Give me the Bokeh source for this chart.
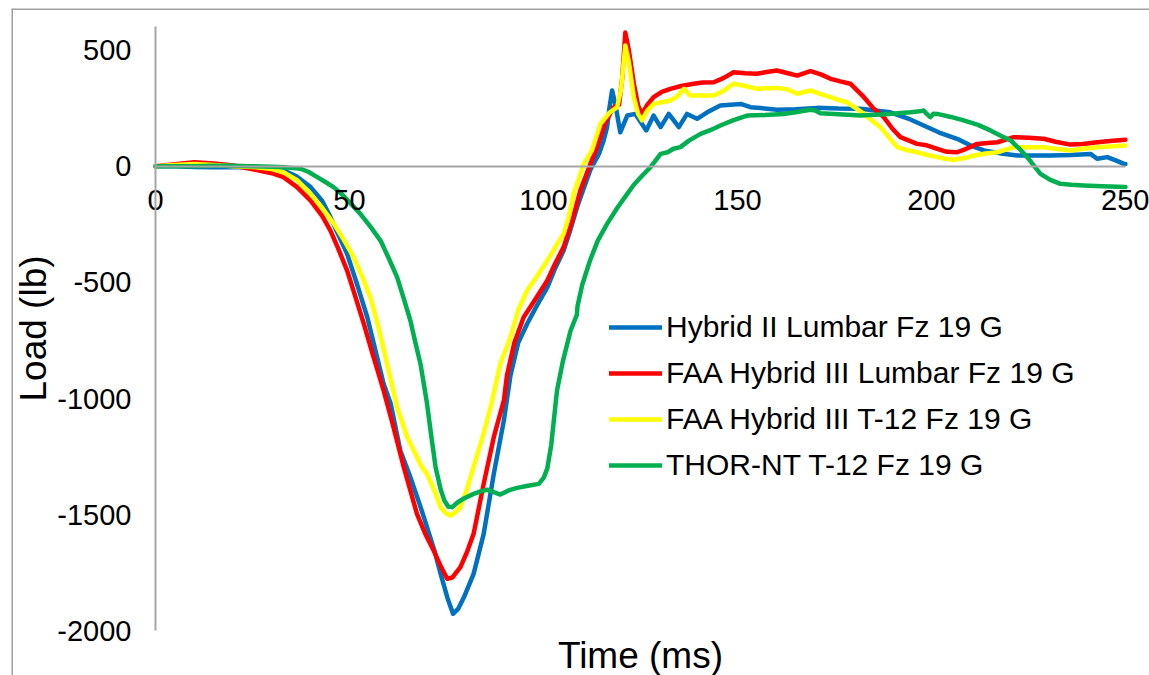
from bokeh.plotting import figure
from bokeh.models import Range1d, FixedTicker, Span, Label
from bokeh.embed import file_html
from bokeh.resources import INLINE

# ---- data: seat-pan drop test, 19 G, load vs. time ----
hyb2_lumbar_t = [0, 5, 10, 15, 20, 25, 30, 33, 36.5, 40, 43, 45.1, 47, 49.4, 52, 54.6, 56.8, 58.8,
                 60.6, 63.1, 65.7, 68, 70, 72, 73.5, 75.3, 76.7, 78, 79.5, 82, 84.6, 87.2, 89.8,
                 91.5, 93.5, 95.8, 98.3, 101, 103, 105.2, 107, 108.7, 110.5, 112.1, 114.3, 115.5,
                 116.4, 117, 117.7, 118.6, 119.8, 121.6, 123.7, 126.5, 128.4, 130.2, 132.3, 134.9,
                 137, 139.6, 142.2, 145.6, 150.8, 153.4, 156, 160.2, 165, 170.5, 176, 181.7, 185.5,
                 189.4, 194, 198, 202, 206.6, 210, 213.5, 218, 222.1, 226, 230.7, 236, 241, 242.7,
                 245.3, 247.5, 249.6, 250]
hyb2_lumbar_load = [0, 0, -3, -5, -3, -4, -10, -18, -45, -90, -150, -219, -290, -377, -510, -650, -800,
                    -936, -1020, -1223, -1338, -1450, -1553, -1660, -1754, -1860, -1926, -1905, -1855,
                    -1754, -1582, -1324, -1094, -900, -760, -678, -600, -521, -440, -363, -270, -175,
                    -90, -15, 53, 110, 168, 250, 326, 260, 146, 218, 225, 154, 218, 168, 225, 168,
                    225, 204, 232, 261, 268, 254, 250, 243, 245, 251, 248, 247, 240, 232, 205, 175,
                    145, 118, 90, 68, 55, 46, 46, 46, 48, 53, 32, 39, 25, 10, 10]

faa_hyb3_lumbar_t = [0, 5, 10, 15, 20, 24.5, 30, 33, 36.5, 40, 43, 45.1, 47, 49.4, 51.5, 53.7, 56, 58.8,
                     61, 64, 67.4, 69.5, 71.7, 73.5, 75.2, 76.5, 78.6, 80.3, 82, 84.6, 87.2, 89.8,
                     90.6, 92.5, 94.9, 98, 101, 103, 105.2, 107.5, 109.5, 112.1, 113.8, 116, 118.1,
                     119.5, 120.3, 121.1, 122, 123.3, 124.4, 125.4, 126.8, 128.4, 130.5, 132.7, 135.5,
                     138.7, 141, 143.9, 146.5, 149, 152, 155, 157.5, 160.2, 163, 165.4, 168.8, 171.5,
                     174, 176.5, 179.1, 182.6, 185, 187.7, 190, 192, 196.3, 198.8, 201.5, 204, 206.6,
                     209, 211.8, 214.5, 217, 221.2, 225, 228.9, 232, 235.8, 239, 242.7, 246, 250]
faa_hyb3_lumbar_load = [0, 8, 17, 12, 3, -11, -30, -47, -90, -148, -215, -277, -350, -449, -560, -678,
                        -810, -965, -1100, -1295, -1496, -1580, -1654, -1720, -1775, -1770, -1725,
                        -1660, -1582, -1367, -1166, -1008, -900, -760, -650, -570, -492, -420, -348,
                        -230, -105, 10, 80, 190, 254, 265, 380, 575, 500, 355, 260, 225, 265, 297, 320,
                        333, 345, 355, 360, 361, 380, 404, 400, 398, 405, 412, 400, 390, 409, 395, 376,
                        365, 355, 297, 250, 211, 160, 125, 96, 90, 75, 62, 60, 75, 96, 100, 103, 125,
                        122, 118, 105, 93, 96, 103, 108, 114]

faa_hyb3_t12_t = [0, 5, 10, 15, 20, 25, 30, 33, 36.5, 40, 43, 46, 48.5, 51.1, 53.3, 55.4, 57.6, 59.7,
                  62.3, 64.9, 66.5, 68.7, 70, 72, 73.5, 75, 76, 77.3, 78.6, 80.3, 82, 84.6, 86.8, 88.9,
                  91.5, 93.5, 95.8, 98.5, 101, 103, 105.2, 106.5, 107.8, 110.4, 112.5, 114.7, 117, 119,
                  120, 121.1, 122, 123.3, 124.4, 125.4, 126.8, 128.4, 130.5, 132.7, 134.5, 136.2,
                  137.9, 141, 143.9, 146.5, 149, 152, 155, 157.5, 160.2, 163, 165.4, 168.8, 171.5, 174,
                  176, 178.3, 180.5, 182.6, 184.8, 186.9, 189, 191.2, 193.5, 196.3, 199, 201.5, 203.5,
                  205.8, 208.5, 211, 214, 217, 221.2, 225, 228.9, 232, 235.8, 239, 242.7, 246, 250]
faa_hyb3_t12_load = [0, 5, 10, 5, 0, -3, -12, -26, -60, -119, -180, -248, -315, -392, -475, -564, -700,
                     -850, -1037, -1166, -1220, -1295, -1324, -1400, -1467, -1495, -1503, -1490, -1467,
                     -1390, -1295, -1151, -1008, -850, -736, -620, -535, -470, -406, -350, -291, -220,
                     -119, 10, 68, 182, 230, 254, 330, 519, 450, 297, 225, 197, 240, 268, 275, 283, 300,
                     333, 304, 304, 304, 325, 355, 345, 333, 335, 337, 330, 312, 326, 310, 297, 285,
                     275, 250, 225, 195, 168, 125, 82, 70, 60, 48, 39, 32, 28, 35, 46, 55, 60, 82, 82,
                     82, 75, 68, 75, 82, 85, 89]

thor_t12_t = [0, 5, 10, 15, 20, 24.5, 30, 33.5, 37.4, 39.5, 41.7, 43.8, 45.9, 48, 50.3, 52.8, 55.4, 58,
              60.1, 62.3, 64, 65.7, 67, 68.3, 70, 71, 72.2, 73.5, 74.5, 75.5, 76.5, 78, 79.5, 82, 84,
              85.5, 87.5, 88.9, 91, 93.2, 96, 98.8, 100.1, 101, 102, 103.5, 105, 107, 108.6, 108.8,
              110, 112, 114, 116.4, 119, 121.6, 123.3, 125.5, 127.6, 130.2, 132, 133.5, 135.3, 137.5,
              140.5, 143, 145.6, 149, 152.5, 157, 161.9, 165, 168.8, 170, 171.4, 175, 181.7, 188,
              194.6, 197, 198, 198.8, 199.7, 200.5, 201.5, 205, 208.3, 212, 215.2, 218, 220.4, 222.5,
              224.7, 226.5, 228.1, 230.5, 233.2, 236, 239.2, 244, 250]
thor_t12_load = [0, 0, 0, 2, 2, 0, -2, -5, -11, -25, -47, -68, -90, -120, -160, -205, -260, -320, -395,
                 -478, -570, -664, -760, -850, -1022, -1150, -1295, -1390, -1440, -1465, -1467, -1445,
                 -1430, -1410, -1398, -1392, -1405, -1413, -1395, -1384, -1375, -1367, -1340, -1300,
                 -1200, -965, -840, -707, -640, -600, -510, -406, -320, -248, -180, -119, -80, -40, -4,
                 53, 60, 75, 82, 110, 139, 155, 175, 198, 218, 220, 225, 232, 243, 240, 228, 225, 218,
                 224, 232, 236, 240, 225, 211, 226, 225, 212, 197, 178, 154, 130, 111, 78, 39, 0, -33,
                 -58, -76, -80, -83, -86, -90]

series_names = ["Hybrid II Lumbar Fz 19 G", "FAA Hybrid III Lumbar Fz 19 G",
                "FAA Hybrid III T-12 Fz 19 G", "THOR-NT T-12 Fz 19 G"]
series_colors = ["#0070C0", "#FF0000", "#FFFF00", "#00B050"]

x_ticks = [0, 50, 100, 150, 200, 250]
y_ticks = [-2000, -1500, -1000, -500, 0, 500]
x_bounds = (0, 250)
y_bounds = (-2000, 600)

# visible window around the axes (the chart frame)
x_limits = (-37.1, 256.2)
y_limits = (-2191.5, 678.6)

FONT = "Liberation Sans"
AXIS_GREY = "#a6a6a6"

p = figure(width=1149, height=675, output_backend="svg", toolbar_location=None,
           x_range=Range1d(*x_limits), y_range=Range1d(*y_limits),
           min_border_left=11, min_border_top=8, min_border_right=0, min_border_bottom=0,
           background_fill_color="white", border_fill_color="white")
p.outline_line_color = None
p.grid.visible = False

series = [(hyb2_lumbar_t, hyb2_lumbar_load), (faa_hyb3_lumbar_t, faa_hyb3_lumbar_load),
          (faa_hyb3_t12_t, faa_hyb3_t12_load), (thor_t12_t, thor_t12_load)]
for (t, load), name, color in zip(series, series_names, series_colors):
    p.line(t, load, line_color=color, line_width=4.5, line_join="round", line_cap="round",
           legend_label=name)

# axes crossing at the origin
p.xaxis.fixed_location = 0
p.yaxis.fixed_location = 0
p.xaxis.bounds = x_bounds
p.yaxis.bounds = y_bounds
p.xaxis.ticker = FixedTicker(ticks=x_ticks)
p.yaxis.ticker = FixedTicker(ticks=y_ticks)
p.xaxis.major_label_overrides = {v: str(v) for v in x_ticks}
p.yaxis.major_label_overrides = {v: str(v) for v in y_ticks}
for ax in (p.xaxis, p.yaxis):
    ax.axis_line_color = AXIS_GREY
    ax.axis_line_width = 2
    ax.major_tick_in = 0
    ax.major_tick_out = 0
    ax.minor_tick_in = 0
    ax.minor_tick_out = 0
    ax.major_label_text_font = FONT
    ax.major_label_text_font_size = "29px"
    ax.major_label_text_color = "#000000"
    ax.axis_label_text_font = FONT
    ax.axis_label_text_font_size = "37px"
    ax.axis_label_text_font_style = "normal"
    ax.axis_label_text_color = "#000000"
p.xaxis.major_label_standoff = 24
p.yaxis.major_label_standoff = 24
p.yaxis.axis_label = "Load (lb)"
p.yaxis.axis_label_standoff = 0

p.add_layout(Label(x=sum(x_bounds) / 2, y=20, x_units="data", y_units="screen",
                   text="Time (ms)", text_font=FONT, text_font_size="37px",
                   text_color="#000000", text_align="center", text_baseline="middle"))

# chart frame (left and top edges)
p.add_layout(Span(location=x_limits[0], dimension="height", line_color="#a0a0a0", line_width=3))
p.add_layout(Span(location=y_limits[1], dimension="width", line_color="#a0a0a0", line_width=3))

lg = p.legend[0]
lg.location = (598, 187)
lg.padding = 0
lg.margin = 0
lg.spacing = 0
lg.border_line_color = None
lg.background_fill_alpha = 0
lg.glyph_width = 53
lg.glyph_height = 46
lg.label_height = 46
lg.label_standoff = 4
lg.label_text_font = FONT
lg.label_text_font_size = "30px"
lg.label_text_color = "#000000"

open("out.html", "w").write(file_html(p, INLINE))
